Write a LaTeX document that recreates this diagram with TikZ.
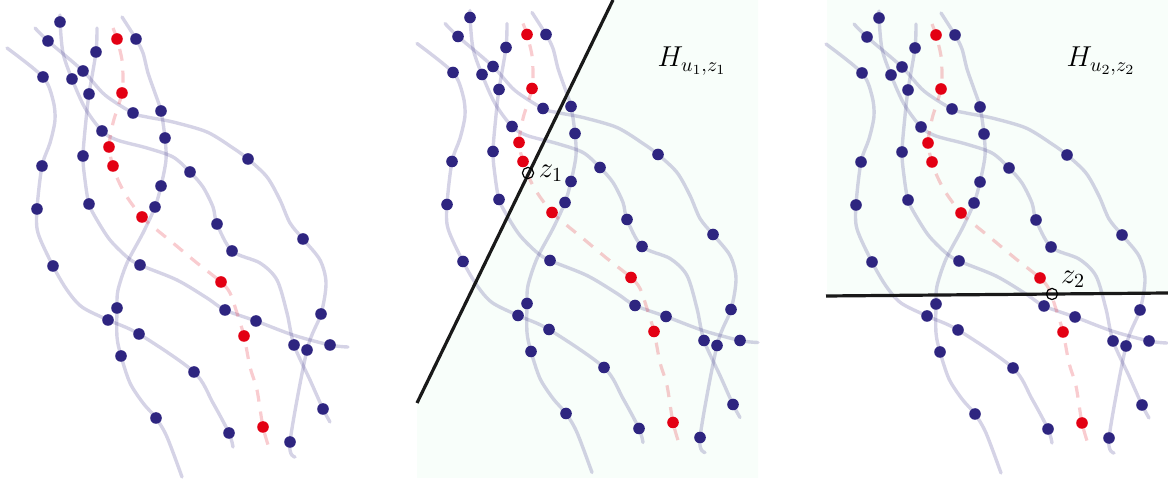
\documentclass[tikz,border=0pt,11pt]{standalone}
\usepackage{tikz}
\usetikzlibrary{positioning}

\definecolor{navy}{RGB}{46,37,128}
\definecolor{vred}{RGB}{227,0,19}
\definecolor{mint}{RGB}{248,254,250}

% the strands, their points and the red trail (drawn once per panel)
\newcommand{\strands}{%
  \foreach \n/\x/\y in {1/60/22, 2/48/41, 3/136/39, 4/96/52, 5/43/77, 6/83/71, 7/72/79, 8/89/94,
      9/133/113, 10/161/111, 11/102/131, 12/165/138, 13/83/156, 14/42/166, 15/248/159, 16/190/172,
      17/161/186, 18/37/209, 19/89/204, 20/155/207, 21/217/224, 22/303/239, 23/232/251, 24/53/266,
      25/140/265, 26/117/308, 27/108/320, 28/139/334, 29/225/310, 30/256/321, 31/321/314, 32/294/345,
      33/307/350, 34/330/345, 35/121/356, 36/194/372, 37/323/409, 38/156/418, 39/229/433, 40/290/442}
    \coordinate (b\n) at (\x,\y);
  \foreach \n/\x/\y in {1/117/39, 2/122/93, 3/109/147, 4/113/166, 5/142/217, 6/221/282, 7/244/336, 8/263/427}
    \coordinate (r\n) at (\x,\y);
  \draw[strand] plot[smooth] coordinates {(7,48) (b5) (53,100) (55,120) (50,143) (b14) (b18) (38,233)
      (b24) (67,290) (82,307) (b27) (b28) (b36) (213,403) (b39) (233,447)};
  \draw[strand] plot[smooth] coordinates {(35,28) (b2) (b6) (105,95) (b9) (147,117) (173,122) (207,132)
      (233,148) (b15) (267,177) (280,200) (290,223) (b22) (320,260) (326,283) (b31) (b33) (b40) (295,457)};
  \draw[strand] plot[smooth] coordinates {(60,15) (b1) (63,53) (b7) (85,108) (b11) (117,140) (147,148)
      (173,157) (b16) (203,187) (213,207) (b21) (b23) (260,263) (277,280) (287,313) (b32) (310,380)
      (b37) (330,422)};
  \draw[strand] plot[smooth] coordinates {(97,28) (b4) (b8) (86,120) (b13) (85,180) (b19) (97,220)
      (110,240) (127,257) (b25) (177,280) (207,298) (b29) (b30) (293,335) (b34) (348,347)};
  \draw[strand] plot[smooth] coordinates {(122,17) (b3) (143,53) (148,73) (155,93) (b10) (b12) (166,160)
      (b17) (b20) (143,233) (127,263) (118,290) (b26) (117,337) (b35) (130,383) (143,403) (b38)
      (167,437) (182,477)};
  \draw[trail] plot[smooth] coordinates {(113,28) (r1) (122,60) (123,80) (r2) (118,107) (113,123) (r3)
      (r4) (118,180) (127,197) (r5) (157,230) (173,243) (197,263) (r6) (230,293) (237,313) (r7)
      (250,367) (257,390) (r8) (270,451)};
  \foreach \n in {1,...,40} \node[dot] (d\n) at (b\n) {};
  \foreach \n in {1,...,8} \node[rdot] (s\n) at (r\n) {};
}

\begin{document}
\begin{tikzpicture}[x=0.5pt, y=-0.5pt, font=\Large,
  strand/.style={navy, opacity=0.2, line width=1.7pt, line cap=round},
  trail/.style={vred, opacity=0.2, line width=1.6pt, dash pattern=on 6pt off 5pt},
  dot/.style={circle, fill=navy, inner sep=0pt, minimum size=5.8pt},
  rdot/.style={dot, fill=vred},
  cut/.style={line width=1.6pt, black!90},
  ring/.style={circle, draw=black, line width=0.6pt, inner sep=0pt, minimum size=5.6pt}]
  \useasboundingbox (0,0) rectangle (1168,480);

  % left panel
  \begin{scope}[name prefix=a-]
    \strands
  \end{scope}

  % middle panel
  \fill[mint] (417,403) -- (613,0) -- (758,0) -- (758,478) -- (417,478) -- cycle;
  \begin{scope}[shift={(410,-4.5)}, name prefix=m-]
    \strands
  \end{scope}
  \coordinate (c1) at (417,403);
  \coordinate (c2) at (613,0);
  \draw[cut] (c1) -- (c2);
  \node[ring] (z1) at (528,173) {};
  \node[right=-1.5pt of z1] (z1lab) {$z_1$};
  \node (h1) at (692,61) {$H_{u_1,z_1}$};

  % right panel
  \fill[mint] (827,0) -- (1168,0) -- (1168,293) -- (827,296) -- cycle;
  \begin{scope}[shift={(819,-4)}, name prefix=r-]
    \strands
  \end{scope}
  \coordinate (c3) at (826,296);
  \coordinate (c4) at (1168,293);
  \draw[cut] (c3) -- (c4);
  \node[ring] (z2) at (1052,294) {};
  \node[above right=-3pt and -1.5pt of z2] (z2lab) {$z_2$};
  \node (h2) at (1101,61) {$H_{u_2,z_2}$};
\end{tikzpicture}
\end{document}
